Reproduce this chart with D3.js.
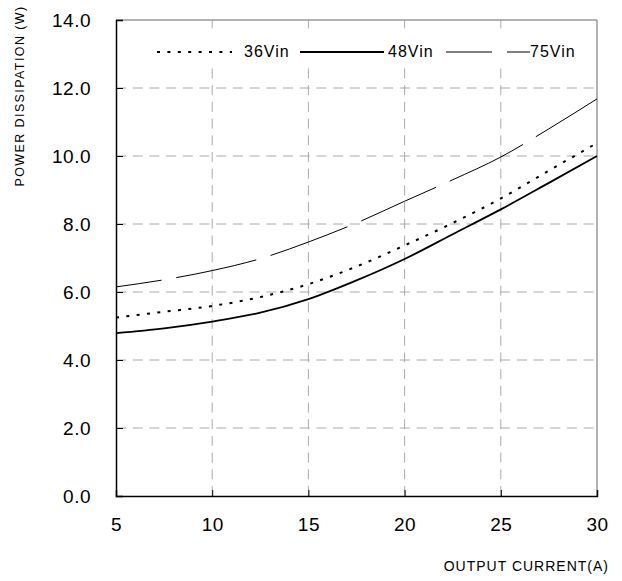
<!DOCTYPE html>
<html>
<head>
<meta charset="utf-8">
<script src="https://cdn.jsdelivr.net/npm/d3@7/dist/d3.min.js"></script>
<style>
  html, body { margin: 0; padding: 0; background: #fff; }
  svg { display: block; font-family: "Liberation Sans", Arial, sans-serif; }
</style>
</head>
<body>
<svg id="chart" width="622" height="581"></svg>
<script>
const currents = [5, 7.5, 10, 12.5, 15, 17.5, 20, 22.5, 25, 27.5, 30];
const vin36 = [5.25, 5.42, 5.59, 5.85, 6.23, 6.75, 7.37, 8.03, 8.75, 9.57, 10.38];
const vin48 = [4.79, 4.93, 5.13, 5.39, 5.79, 6.34, 6.97, 7.70, 8.43, 9.21, 10.0];
const vin75 = [6.15, 6.36, 6.63, 6.98, 7.47, 8.03, 8.67, 9.30, 9.97, 10.80, 11.68];
const xTicks = [5, 10, 15, 20, 25, 30];
const yTicks = [0, 2, 4, 6, 8, 10, 12, 14];
const seriesNames = ["36Vin", "48Vin", "75Vin"];

const svg = d3.select("#chart");
const L = 116, R = 597, T = 20, B = 496;
const x = d3.scaleLinear().domain([5, 30]).range([L, R]);
const y = d3.scaleLinear().domain([0, 14]).range([B, T]);

// grid
const grid = svg.append("g");
grid.selectAll("line.h").data(yTicks.filter(d => d > 0 && d < 14)).join("line")
  .attr("x1", L).attr("x2", R).attr("y1", d => y(d)).attr("y2", d => y(d))
  .attr("stroke", "#aaa").attr("stroke-width", 1).attr("stroke-dasharray", "10,6.7");
grid.selectAll("line.v").data(xTicks.filter(d => d > 5 && d < 30)).join("line")
  .attr("x1", d => x(d)).attr("x2", d => x(d)).attr("y1", B).attr("y2", T)
  .attr("stroke", "#aaa").attr("stroke-width", 1).attr("stroke-dasharray", "10,6.7");

// legend background
svg.append("rect").attr("x", 150).attr("y", 32).attr("width", R - 150 - 1).attr("height", 32).attr("fill", "#fff");

// frame top/right
svg.append("line").attr("x1", L).attr("x2", R).attr("y1", T).attr("y2", T).attr("stroke", "#999").attr("stroke-width", 1.5);
svg.append("line").attr("x1", R).attr("x2", R).attr("y1", T).attr("y2", B).attr("stroke", "#999").attr("stroke-width", 1.5);

// axes
const xAxis = d3.axisBottom(x).tickValues(xTicks).tickSize(-6).tickPadding(22).tickFormat(d3.format("d"));
const yAxis = d3.axisLeft(y).tickValues(yTicks).tickSize(-7).tickPadding(25).tickFormat(d3.format(".1f"));
const gx = svg.append("g").attr("transform", `translate(0,${B})`).call(xAxis);
const gy = svg.append("g").attr("transform", `translate(${L},0)`).call(yAxis);
[gx, gy].forEach(g => {
  g.select(".domain").attr("stroke", "#000").attr("stroke-width", 1.5);
  g.selectAll(".tick line").attr("stroke", "#000").attr("stroke-width", 1);
  g.selectAll(".tick text").attr("fill", "#000").attr("font-size", 19)
    .attr("font-family", "'Liberation Sans', Arial, sans-serif").style("letter-spacing", "0.5px");
});
gx.selectAll(".tick text").attr("dy", "0.71em");
gx.selectAll(".tick").filter(d => d === 5 || d === 30).select("line").remove();
gy.selectAll(".tick").filter(d => d === 0 || d === 14).select("line").remove();

// series
const line = d3.line().x(d => x(d[0])).y(d => y(d[1])).curve(d3.curveMonotoneX);
const mk = vals => currents.map((c, i) => [c, vals[i]]);
svg.append("path").attr("d", line(mk(vin75))).attr("fill", "none").attr("stroke", "#000")
  .attr("stroke-width", 1).attr("stroke-dasharray", "82,15").attr("stroke-dashoffset", 36);
svg.append("path").attr("d", line(mk(vin48))).attr("fill", "none").attr("stroke", "#000")
  .attr("stroke-width", 1.8);
svg.append("path").attr("d", line(mk(vin36))).attr("fill", "none").attr("stroke", "#000")
  .attr("stroke-width", 2).attr("stroke-dasharray", "3,7.4");

// legend
const ly = 52;
const lg = svg.append("g");
lg.append("line").attr("x1", 157).attr("x2", 232).attr("y1", ly).attr("y2", ly)
  .attr("stroke", "#000").attr("stroke-width", 2).attr("stroke-dasharray", "3,7.4");
lg.append("line").attr("x1", 300).attr("x2", 384).attr("y1", ly).attr("y2", ly)
  .attr("stroke", "#000").attr("stroke-width", 1.8);
lg.append("line").attr("x1", 446).attr("x2", 530).attr("y1", ly).attr("y2", ly)
  .attr("stroke", "#000").attr("stroke-width", 1).attr("stroke-dasharray", "46,15");
const legX = [244, 388, 530];
lg.selectAll("text").data(seriesNames).join("text")
  .attr("x", (d, i) => legX[i]).attr("y", 57).attr("font-size", 16)
  .style("letter-spacing", "1px").text(d => d);

// axis titles
svg.append("text").attr("x", 609).attr("y", 571).attr("text-anchor", "end")
  .attr("font-size", 14).style("letter-spacing", "1px").text("OUTPUT CURRENT(A)");
svg.append("text").attr("transform", "translate(24,96) rotate(-90)").attr("text-anchor", "middle")
  .attr("font-size", 12.5).style("letter-spacing", "1.4px").text("POWER DISSIPATION (W)");
</script>
</body>
</html>
